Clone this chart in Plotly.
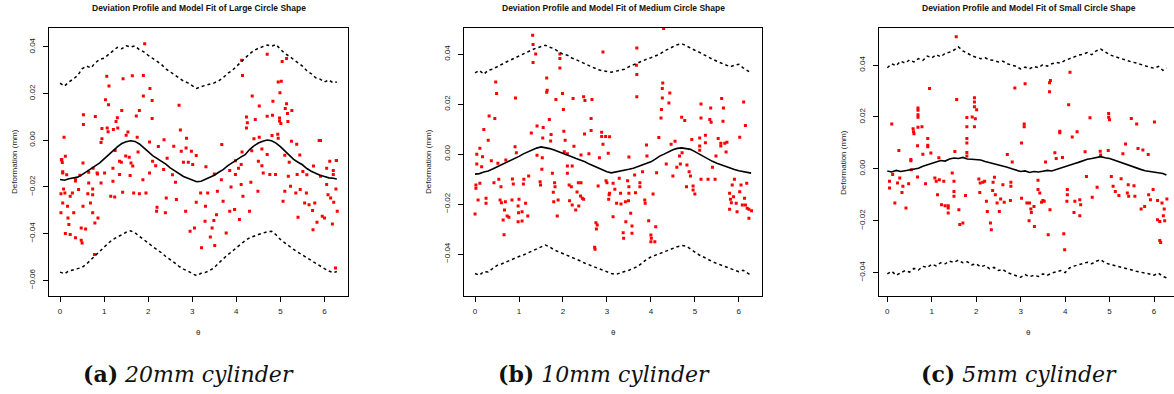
import plotly.graph_objects as go

# ---------------- data ----------------
THETA = [0.0, 0.1, 0.2, 0.3, 0.4, 0.5, 0.6, 0.7, 0.8, 0.9, 1.0, 1.1, 1.2, 1.3, 1.4, 1.5,
         1.6, 1.7, 1.8, 1.9, 2.0, 2.1, 2.2, 2.3, 2.4, 2.5, 2.6, 2.7, 2.8, 2.9, 3.0, 3.1,
         3.2, 3.3, 3.4, 3.5, 3.6, 3.7, 3.8, 3.9, 4.0, 4.1, 4.2, 4.3, 4.4, 4.5, 4.6, 4.7,
         4.8, 4.9, 5.0, 5.1, 5.2, 5.3, 5.4, 5.5, 5.6, 5.7, 5.8, 5.9, 6.0, 6.1, 6.2, 6.28]

# Panel (a) large circle
A_FIT = [-0.0168, -0.0171, -0.0165, -0.0162, -0.0158, -0.0147, -0.0135, -0.0124, -0.0111, -0.0097,
         -0.0080, -0.0063, -0.0043, -0.0028, -0.0014, -0.0006, -0.0002, -0.0005, -0.0016, -0.0031,
         -0.0049, -0.0066, -0.0078, -0.0090, -0.0102, -0.0118, -0.0131, -0.0142, -0.0155, -0.0163,
         -0.0170, -0.0178, -0.0176, -0.0168, -0.0160, -0.0150, -0.0137, -0.0126, -0.0110, -0.0097,
         -0.0084, -0.0072, -0.0062, -0.0040, -0.0024, -0.0012, -0.0004, 0.0001, -0.0002, -0.0012,
         -0.0027, -0.0045, -0.0066, -0.0082, -0.0094, -0.0105, -0.0121, -0.0133, -0.0141, -0.0150,
         -0.0155, -0.0161, -0.0163, -0.0166]
A_UPPER = [0.0245, 0.0232, 0.0250, 0.0262, 0.0278, 0.0306, 0.0318, 0.0310, 0.0332, 0.0346,
           0.0352, 0.0368, 0.0381, 0.0398, 0.0392, 0.0405, 0.0399, 0.0404, 0.0388, 0.0379,
           0.0364, 0.0352, 0.0338, 0.0325, 0.0306, 0.0292, 0.0278, 0.0266, 0.0254, 0.0246,
           0.0232, 0.0222, 0.0230, 0.0235, 0.0238, 0.0246, 0.0255, 0.0268, 0.0286, 0.0298,
           0.0316, 0.0332, 0.0352, 0.0370, 0.0385, 0.0394, 0.0401, 0.0408, 0.0403, 0.0410,
           0.0390, 0.0372, 0.0360, 0.0345, 0.0330, 0.0318, 0.0298, 0.0285, 0.0268, 0.0262,
           0.0250, 0.0258, 0.0246, 0.0250]
A_LOWER = [-0.0565, -0.0572, -0.0560, -0.0556, -0.0550, -0.0545, -0.0530, -0.0512, -0.0495, -0.0476,
           -0.0455, -0.0440, -0.0425, -0.0414, -0.0402, -0.0394, -0.0388, -0.0396, -0.0412, -0.0425,
           -0.0440, -0.0455, -0.0468, -0.0482, -0.0498, -0.0510, -0.0525, -0.0540, -0.0552, -0.0560,
           -0.0572, -0.0580, -0.0570, -0.0566, -0.0558, -0.0545, -0.0525, -0.0508, -0.0492, -0.0476,
           -0.0462, -0.0445, -0.0430, -0.0418, -0.0410, -0.0404, -0.0398, -0.0392, -0.0390, -0.0405,
           -0.0425, -0.0440, -0.0455, -0.0468, -0.0480, -0.0492, -0.0504, -0.0515, -0.0526, -0.0537,
           -0.0550, -0.0560, -0.0568, -0.0562]
A_PTS_T = [1.92, 1.06, 1.43, 1.64, 1.89, 1.11, 2.04, 1.89, 1.03, 2.09, 1.10, 2.70, 1.40, 1.80, 0.53,
           0.80, 1.30, 1.73, 2.09, 1.27, 0.53, 0.95, 1.07, 1.21, 1.31, 1.09, 1.54, 2.73, 0.09, 0.95,
           1.50, 1.75, 0.93, 2.36, 2.87, 2.03, 2.23, 2.58, 2.86, 1.25, 1.77, 2.75, 2.98, 3.09, 1.49,
           1.57, 0.12, 0.04, 2.43, 2.91, 2.80, 4.70, 5.04, 5.14, 4.12, 4.14, 5.02, 4.95, 4.99, 4.36,
           4.83, 4.52, 5.14, 5.11, 5.26, 5.16, 4.23, 4.43, 4.70, 4.82, 4.98, 4.98, 5.17, 4.25, 5.01,
           4.23, 4.40, 4.52, 4.81, 4.94, 4.95, 5.25, 5.37, 5.88, 5.91, 3.67, 4.35, 4.58, 4.70, 5.10,
           4.13, 5.44, 6.12, 6.27, 3.98,
           0.03, 0.06, 0.02, 0.08, 0.06, 0.02, 0.11, 0.17, 0.18, 0.20, 0.12, 0.23, 0.35, 0.48, 0.50,
           0.58, 0.48, 0.31, 0.28, 0.23, 0.35, 0.42, 0.52, 0.63, 0.69, 0.74, 0.79, 0.86, 0.74, 0.65,
           0.65, 0.74, 0.84, 0.93, 1.01, 1.20, 1.24, 1.15, 1.35, 1.42, 1.59, 1.67, 1.80, 1.88, 1.95,
           2.03, 2.17, 2.19, 2.20, 2.39, 2.41, 2.62, 2.64, 2.85, 2.95, 3.05, 3.09, 3.19, 3.21, 3.29,
           3.30, 3.35, 3.41, 3.45, 3.49, 3.51, 3.55, 3.57, 3.70, 3.66, 3.77, 3.85, 3.88, 3.96, 3.98,
           4.07, 4.11, 4.15, 4.30, 4.33, 4.49, 4.58, 4.76, 4.89, 5.06, 5.10, 5.18, 5.23, 5.35, 5.38,
           5.40, 5.45, 5.55, 5.59, 5.65, 5.73, 5.74, 5.78, 5.83, 5.91, 5.95, 6.00, 6.05, 6.08, 6.14,
           6.18, 6.21, 6.29, 6.25, 0.78, 6.26, 6.20, 6.27, 0.52, 1.39, 1.61, 3.01, 3.31, 4.61, 5.20,
           5.51, 4.11,
           0.05, 0.06, 0.15, 0.35, 0.45, 0.75, 0.85, 1.20, 1.35, 1.65, 2.10, 2.35, 2.55, 3.50, 3.85,
           4.05, 4.50, 5.60, 5.75, 6.05, 6.20]
A_PTS_V = [0.0414, 0.0274, 0.0264, 0.0276, 0.0277, 0.0233, 0.0222, 0.0190, 0.0174, 0.0170, 0.0152,
           0.0150, 0.0127, 0.0127, 0.0109, 0.0102, 0.0096, 0.0104, 0.0093, 0.0080, 0.0067, 0.0050,
           0.0053, 0.0046, 0.0053, 0.0036, 0.0035, 0.0044, 0.0013, 0.0007, 0.0022, 0.0013, -0.0010,
           0.0002, 0.0009, -0.0007, -0.0027, -0.0026, -0.0033, -0.0044, -0.0050, -0.0047, -0.0047,
           -0.0065, -0.0067, -0.0073, -0.0068, -0.0082, -0.0077, -0.0094, -0.0094, 0.0369, 0.0337,
           0.0350, 0.0343, 0.0277, 0.0253, 0.0250, 0.0204, 0.0190, 0.0167, 0.0147, 0.0156, 0.0136,
           0.0127, 0.0115, 0.0100, 0.0089, 0.0103, 0.0107, 0.0095, 0.0083, 0.0080, 0.0075, 0.0072,
           0.0053, 0.0007, 0.0013, 0.0020, 0.0026, 0.0009, -0.0004, -0.0017, -0.0001, -0.0001,
           -0.0018, -0.0045, -0.0037, -0.0061, -0.0064, -0.0050, -0.0063, -0.0090, -0.0087, -0.0088,
           -0.0083, -0.0140, -0.0229, -0.0209, -0.0269, -0.0311, -0.0226, -0.0283, -0.0333, -0.0361,
           -0.0400, -0.0404, -0.0418, -0.0428, -0.0440, -0.0380, -0.0376, -0.0311, -0.0226, -0.0240,
           -0.0169, -0.0211, -0.0283, -0.0229, -0.0269, -0.0311, -0.0354, -0.0333, -0.0233, -0.0183,
           -0.0137, -0.0209, -0.0140, -0.0183, -0.0140, -0.0176, -0.0243, -0.0240, -0.0147, -0.0223,
           -0.0151, -0.0226, -0.0229, -0.0169, -0.0226, -0.0140, -0.0109, -0.0304, -0.0287, -0.0311,
           -0.0247, -0.0180, -0.0254, -0.0304, -0.0390, -0.0376, -0.0266, -0.0226, -0.0461, -0.0347,
           -0.0283, -0.0226, -0.0414, -0.0376, -0.0344, -0.0451, -0.0319, -0.0219, -0.0261, -0.0169,
           -0.0397, -0.0304, -0.0200, -0.0297, -0.0147, -0.0340, -0.0190, -0.0240, -0.0304, -0.0180,
           -0.0219, -0.0109, -0.0147, -0.0147, -0.0261, -0.0219, -0.0154, -0.0197, -0.0226, -0.0147,
           -0.0330, -0.0211, -0.0269, -0.0226, -0.0276, -0.0301, -0.0383, -0.0269, -0.0351, -0.0154,
           -0.0326, -0.0333, -0.0190, -0.0233, -0.0247, -0.0359, -0.0266, -0.0304, -0.0547, -0.0490,
           -0.0209, -0.0147, -0.0087, -0.0097, -0.0094, -0.0097, -0.0104, -0.0114, -0.0140, -0.0094,
           -0.0134, -0.0104,
           -0.0095, -0.0135, -0.0148, -0.0175, -0.0150, -0.0120, -0.0145, -0.0120, -0.0090, -0.0110,
           -0.0090, -0.0125, -0.0148, -0.0145, -0.0130, -0.0120, -0.0090, -0.0148, -0.0110, -0.0120,
           -0.0130]

# Panel (b) medium circle
B_FIT = [-0.0080, -0.0078, -0.0072, -0.0068, -0.0060, -0.0052, -0.0044, -0.0036, -0.0026, -0.0017,
         -0.0009, 0.0001, 0.0009, 0.0018, 0.0024, 0.0029, 0.0026, 0.0022, 0.0016, 0.0010,
         0.0003, -0.0004, -0.0011, -0.0018, -0.0024, -0.0031, -0.0040, -0.0048, -0.0056, -0.0064,
         -0.0071, -0.0075, -0.0072, -0.0070, -0.0066, -0.0061, -0.0057, -0.0050, -0.0044, -0.0037,
         -0.0031, -0.0020, -0.0008, 0.0000, 0.0009, 0.0017, 0.0023, 0.0025, 0.0022, 0.0019,
         0.0010, 0.0000, -0.0011, -0.0020, -0.0029, -0.0037, -0.0044, -0.0051, -0.0057, -0.0062,
         -0.0067, -0.0071, -0.0073, -0.0076]
B_UPPER = [0.0325, 0.0335, 0.0320, 0.0336, 0.0340, 0.0350, 0.0358, 0.0368, 0.0376, 0.0385,
           0.0392, 0.0400, 0.0410, 0.0418, 0.0425, 0.0430, 0.0436, 0.0428, 0.0422, 0.0410,
           0.0400, 0.0396, 0.0385, 0.0378, 0.0370, 0.0360, 0.0352, 0.0345, 0.0338, 0.0334,
           0.0330, 0.0328, 0.0332, 0.0335, 0.0340, 0.0350, 0.0358, 0.0365, 0.0372, 0.0380,
           0.0386, 0.0392, 0.0400, 0.0412, 0.0422, 0.0430, 0.0438, 0.0442, 0.0434, 0.0424,
           0.0416, 0.0408, 0.0398, 0.0390, 0.0380, 0.0372, 0.0365, 0.0355, 0.0350, 0.0356,
           0.0360, 0.0345, 0.0335, 0.0325]
B_LOWER = [-0.0478, -0.0485, -0.0470, -0.0472, -0.0458, -0.0446, -0.0440, -0.0432, -0.0424, -0.0418,
           -0.0410, -0.0404, -0.0396, -0.0386, -0.0378, -0.0370, -0.0364, -0.0372, -0.0384, -0.0391,
           -0.0398, -0.0405, -0.0411, -0.0420, -0.0428, -0.0437, -0.0444, -0.0450, -0.0457, -0.0465,
           -0.0472, -0.0478, -0.0482, -0.0475, -0.0470, -0.0465, -0.0458, -0.0450, -0.0436, -0.0422,
           -0.0412, -0.0405, -0.0398, -0.0391, -0.0384, -0.0376, -0.0371, -0.0366, -0.0368, -0.0380,
           -0.0392, -0.0404, -0.0412, -0.0422, -0.0431, -0.0438, -0.0445, -0.0451, -0.0458, -0.0465,
           -0.0471, -0.0465, -0.0478, -0.0486]
B_PTS_T = [1.31, 4.29, 1.32, 1.38, 1.32, 1.93, 1.93, 1.93, 2.91, 3.68, 3.68, 3.67, 0.47, 0.49, 0.92,
           1.63, 1.64, 1.63, 1.99, 1.84, 2.23, 2.47, 2.50, 2.66, 3.68, 4.27, 4.26, 4.43, 4.26, 4.41,
           5.61, 5.14, 5.36, 5.65, 6.11, 4.24, 2.01, 0.32, 0.45, 1.69, 2.64, 4.23, 4.70, 4.77, 5.14,
           5.34, 5.37, 5.64, 6.15, 0.20, 1.41, 1.55, 1.28, 1.73, 2.02, 2.49, 2.64, 2.88, 0.30, 1.54,
           1.72, 2.05, 2.88, 2.97, 3.06, 4.18, 4.55, 4.93, 5.11, 5.24, 5.53, 6.02, 5.24, 5.59, 5.68,
           5.73, 0.11, 0.91, 2.25, 2.91, 3.90, 4.46, 5.11, 5.59, 5.11, 0.04, 0.17, 0.94, 1.41, 1.53,
           2.03, 2.10, 2.41, 2.59, 2.83, 3.03, 3.50, 3.91, 4.71, 4.65, 5.48, 5.71,
           0.04, 0.15, 0.37, 0.52, 0.70, 0.02, 0.11, 0.02, 0.43, 0.54, 0.59, 0.07, 0.25, 0.25, 0.57,
           0.60, 0.69, 0.84, 0.00, 0.67, 0.73, 0.64, 0.77, 0.66, 1.00, 0.98, 0.99, 1.07, 0.98, 1.07,
           1.20, 1.15, 1.10, 0.87, 0.85, 1.11, 1.22, 1.48, 1.49, 1.52, 1.76, 1.81, 1.82, 1.78, 1.79,
           1.89, 1.87, 2.10, 2.21, 2.10, 2.14, 2.19, 2.15, 2.21, 2.29, 2.35, 2.41, 2.32, 2.40, 2.44,
           2.47, 2.36, 2.80, 2.75, 2.78, 2.76, 2.72, 2.73, 2.98, 3.00, 3.05, 3.06, 3.04, 3.14, 3.18,
           3.22, 3.28, 3.31, 3.32, 3.14, 3.42, 3.43, 3.37, 3.38, 3.49, 3.50, 3.47, 3.50, 3.54, 3.57,
           3.57, 3.63, 3.65, 3.75, 3.75, 3.81, 3.86, 3.87, 3.95, 4.00, 4.01, 4.00, 4.09, 4.11, 4.05,
           4.13, 4.35, 4.50, 4.59, 4.67, 4.82, 4.87, 4.90, 4.81, 4.96, 4.96, 5.00, 5.14, 5.30, 5.40,
           5.46, 5.85, 5.79, 5.81, 5.83, 5.79, 5.88, 5.94, 5.96, 5.90, 6.02, 6.05, 6.13, 6.15, 6.18,
           6.19, 6.23, 6.23, 6.29, 6.08]
B_PTS_V = [0.0476, 0.0503, 0.0439, 0.0401, 0.0367, 0.0401, 0.0383, 0.0345, 0.0409, 0.0425, 0.0319,
           0.0356, 0.0289, 0.0243, 0.0225, 0.0305, 0.0256, 0.0248, 0.0243, 0.0219, 0.0223, 0.0230,
           0.0215, 0.0219, 0.0230, 0.0285, 0.0263, 0.0245, 0.0225, 0.0205, 0.0223, 0.0201, 0.0185,
           0.0185, 0.0209, 0.0179, 0.0179, 0.0153, 0.0143, 0.0139, 0.0143, 0.0145, 0.0148, 0.0135,
           0.0145, 0.0139, 0.0128, 0.0132, 0.0115, 0.0099, 0.0113, 0.0107, 0.0085, 0.0079, 0.0092,
           0.0081, 0.0095, 0.0088, 0.0055, 0.0065, 0.0052, 0.0055, 0.0071, 0.0071, 0.0070, 0.0067,
           0.0051, 0.0059, 0.0065, 0.0076, 0.0063, 0.0068, 0.0045, 0.0043, 0.0043, 0.0047, 0.0023,
           0.0029, 0.0031, 0.0039, 0.0036, 0.0039, 0.0032, 0.0032, 0.0015, -0.0001, -0.0011, 0.0005,
           -0.0005, -0.0015, 0.0009, 0.0001, -0.0004, 0.0001, -0.0015, 0.0003, -0.0012, -0.0008,
           0.0005, -0.0008, -0.0008, 0.0008,
           -0.0040, -0.0051, -0.0027, -0.0037, -0.0024, -0.0124, -0.0117, -0.0137, -0.0115, -0.0101,
           -0.0131, -0.0184, -0.0177, -0.0197, -0.0184, -0.0195, -0.0191, -0.0184, -0.0240, -0.0224,
           -0.0248, -0.0264, -0.0253, -0.0323, -0.0181, -0.0208, -0.0235, -0.0231, -0.0271, -0.0268,
           -0.0248, -0.0197, -0.0120, -0.0120, -0.0100, -0.0101, -0.0088, -0.0111, -0.0124, -0.0061,
           -0.0077, -0.0115, -0.0131, -0.0153, -0.0191, -0.0184, -0.0248, -0.0048, -0.0048, -0.0077,
           -0.0124, -0.0131, -0.0187, -0.0204, -0.0224, -0.0115, -0.0115, -0.0152, -0.0168, -0.0177,
           -0.0181, -0.0208, -0.0128, -0.0275, -0.0284, -0.0300, -0.0373, -0.0381, -0.0107, -0.0115,
           -0.0163, -0.0157, -0.0181, -0.0117, -0.0141, -0.0197, -0.0097, -0.0157, -0.0200, -0.0251,
           -0.0191, -0.0271, -0.0315, -0.0337, -0.0187, -0.0157, -0.0107, -0.0131, -0.0237, -0.0288,
           -0.0317, -0.0084, -0.0155, -0.0115, -0.0131, -0.0071, -0.0184, -0.0197, -0.0267, -0.0324,
           -0.0337, -0.0351, -0.0351, -0.0291, -0.0160, -0.0075, -0.0040, -0.0088, -0.0053, -0.0040,
           -0.0044, -0.0071, -0.0088, -0.0131, -0.0128, -0.0144, -0.0160, -0.0101, -0.0101, -0.0053,
           -0.0101, -0.0124, -0.0157, -0.0181, -0.0195, -0.0221, -0.0171, -0.0197, -0.0231, -0.0101,
           -0.0151, -0.0124, -0.0177, -0.0204, -0.0117, -0.0217, -0.0257, -0.0221, -0.0227, -0.0204]

# Panel (c) small circle
C_FIT = [-0.0008, -0.0012, -0.0006, -0.0010, -0.0007, -0.0004, -0.0002, 0.0002, 0.0010, 0.0016,
         0.0022, 0.0026, 0.0032, 0.0030, 0.0038, 0.0042, 0.0040, 0.0044, 0.0038, 0.0037,
         0.0035, 0.0034, 0.0028, 0.0024, 0.0020, 0.0015, 0.0010, 0.0006, 0.0000, -0.0006,
         -0.0010, -0.0008, -0.0014, -0.0010, -0.0012, -0.0009, -0.0006, -0.0008, -0.0002, 0.0004,
         0.0009, 0.0014, 0.0020, 0.0025, 0.0032, 0.0037, 0.0040, 0.0044, 0.0047, 0.0043,
         0.0040, 0.0034, 0.0028, 0.0022, 0.0014, 0.0009, 0.0003, -0.0002, -0.0007, -0.0010,
         -0.0012, -0.0016, -0.0018, -0.0024]
C_UPPER = [0.0390, 0.0405, 0.0398, 0.0415, 0.0408, 0.0420, 0.0412, 0.0425, 0.0418, 0.0435,
           0.0428, 0.0440, 0.0432, 0.0445, 0.0450, 0.0458, 0.0470, 0.0455, 0.0446, 0.0436,
           0.0430, 0.0425, 0.0428, 0.0420, 0.0418, 0.0412, 0.0415, 0.0405, 0.0400, 0.0395,
           0.0385, 0.0392, 0.0386, 0.0395, 0.0390, 0.0402, 0.0396, 0.0405, 0.0410, 0.0408,
           0.0418, 0.0425, 0.0430, 0.0438, 0.0442, 0.0448, 0.0440, 0.0455, 0.0462, 0.0452,
           0.0440, 0.0434, 0.0428, 0.0425, 0.0418, 0.0412, 0.0408, 0.0402, 0.0398, 0.0392,
           0.0388, 0.0395, 0.0380, 0.0388]
C_LOWER = [-0.0405, -0.0395, -0.0410, -0.0400, -0.0392, -0.0398, -0.0384, -0.0390, -0.0376, -0.0380,
           -0.0368, -0.0374, -0.0362, -0.0366, -0.0356, -0.0360, -0.0352, -0.0362, -0.0358, -0.0370,
           -0.0366, -0.0378, -0.0372, -0.0385, -0.0380, -0.0392, -0.0388, -0.0400, -0.0405, -0.0410,
           -0.0418, -0.0408, -0.0416, -0.0410, -0.0415, -0.0405, -0.0410, -0.0402, -0.0398, -0.0392,
           -0.0400, -0.0382, -0.0375, -0.0370, -0.0364, -0.0360, -0.0366, -0.0356, -0.0350, -0.0362,
           -0.0368, -0.0372, -0.0378, -0.0382, -0.0386, -0.0390, -0.0395, -0.0398, -0.0402, -0.0405,
           -0.0410, -0.0402, -0.0415, -0.0420]
C_PTS_T = [1.55, 0.95, 1.56, 1.96, 1.96, 1.96, 2.01, 2.87, 3.10, 3.67, 3.65, 3.65, 4.11, 4.08, 0.69,
           0.69, 0.69, 0.69, 0.10, 0.58, 0.69, 0.78, 0.59, 0.60, 1.79, 1.91, 1.98, 1.79, 1.96, 3.08,
           3.08, 3.88, 3.88, 4.16, 4.27, 4.56, 4.98, 4.98, 5.00, 5.49, 5.61, 6.01, 0.91, 0.91, 0.91,
           0.68, 1.79, 1.79, 3.02, 5.36, 0.26, 0.80, 0.98, 1.52, 1.79, 1.79, 1.16, 2.70, 3.77, 3.80,
           3.94, 4.45, 4.79, 4.80, 4.97, 5.30, 5.64, 5.75, 5.87, 0.53, 2.81, 3.56,
           0.05, 0.05, 0.12, 0.17, 0.23, 0.28, 0.35, 0.33, 0.42, 0.48, 0.53, 0.54, 0.68, 0.86, 1.07,
           1.10, 1.13, 1.17, 1.27, 1.22, 1.30, 1.37, 1.37, 1.46, 1.50, 1.50, 1.50, 1.61, 1.63, 1.70,
           1.76, 2.06, 2.09, 2.15, 2.19, 2.08, 2.23, 2.25, 2.32, 2.34, 2.38, 2.37, 2.41, 2.43, 2.47,
           2.52, 2.55, 2.60, 2.63, 2.78, 2.78, 2.77, 3.02, 3.14, 3.20, 3.23, 3.24, 3.19, 3.30, 3.31,
           3.39, 3.43, 3.47, 3.50, 3.53, 3.39, 3.62, 3.66, 3.97, 3.99, 4.05, 4.05, 4.04, 4.20, 4.22,
           4.33, 4.35, 4.33, 4.48, 4.61, 4.72, 5.04, 5.08, 5.13, 5.21, 5.26, 5.42, 5.40, 5.43, 5.55,
           5.57, 5.71, 5.79, 5.88, 5.92, 5.98, 6.08, 6.08, 6.13, 6.13, 6.15, 6.21, 6.24, 6.23, 6.29,
           6.18, 1.37]
C_PTS_V = [0.0509, 0.0310, 0.0267, 0.0274, 0.0258, 0.0239, 0.0228, 0.0312, 0.0328, 0.0341, 0.0332,
           0.0297, 0.0372, 0.0247, 0.0235, 0.0226, 0.0209, 0.0199, 0.0173, 0.0155, 0.0160, 0.0162,
           0.0143, 0.0135, 0.0198, 0.0200, 0.0193, 0.0162, 0.0162, 0.0173, 0.0162, 0.0145, 0.0139,
           0.0123, 0.0143, 0.0197, 0.0213, 0.0199, 0.0189, 0.0194, 0.0173, 0.0181, 0.0117, 0.0091,
           0.0085, 0.0089, 0.0117, 0.0100, 0.0100, 0.0096, 0.0071, 0.0056, 0.0061, 0.0067, 0.0063,
           0.0050, 0.0043, 0.0055, 0.0062, 0.0040, 0.0044, 0.0066, 0.0068, 0.0053, 0.0071, 0.0058,
           0.0078, 0.0073, 0.0055, 0.0031, 0.0026, 0.0026,
           -0.0048, -0.0074, -0.0022, -0.0132, -0.0055, -0.0035, -0.0067, -0.0091, -0.0151, -0.0057,
           0.0036, -0.0003, -0.0031, -0.0057, -0.0035, -0.0048, -0.0100, -0.0042, -0.0048, -0.0138,
           -0.0142, -0.0151, -0.0170, -0.0016, -0.0048, -0.0087, -0.0106, -0.0158, -0.0215, -0.0209,
           -0.0103, -0.0039, -0.0055, -0.0052, -0.0048, -0.0091, -0.0125, -0.0164, -0.0209, -0.0235,
           -0.0052, -0.0083, -0.0032, -0.0100, -0.0132, -0.0164, -0.0116, -0.0061, -0.0129, -0.0052,
           -0.0067, -0.0122, -0.0113, -0.0132, -0.0132, -0.0155, -0.0168, -0.0200, -0.0145, -0.0222,
           -0.0080, -0.0093, -0.0129, -0.0122, -0.0125, -0.0044, -0.0254, -0.0158, -0.0250, -0.0312,
           -0.0080, -0.0100, -0.0125, -0.0168, -0.0125, -0.0119, -0.0138, -0.0181, -0.0029, -0.0109,
           -0.0071, -0.0029, -0.0067, -0.0087, -0.0103, -0.0038, -0.0061, -0.0093, -0.0106, -0.0065,
           -0.0106, -0.0155, -0.0145, -0.0100, -0.0119, -0.0080, -0.0122, -0.0196, -0.0203, -0.0276,
           -0.0284, -0.0181, -0.0200, -0.0155, -0.0116, -0.0132, -0.0142]

TITLES = ["Deviation Profile and Model Fit of Large Circle Shape",
          "Deviation Profile and Model Fit of Medium Circle Shape",
          "Deviation Profile and Model Fit of Small Circle Shape"]
CAPTIONS = [("(a)", "20mm cylinder"), ("(b)", "10mm cylinder"), ("(c)", "5mm cylinder")]
X_TICKS = [0, 1, 2, 3, 4, 5, 6]
Y_TICKS = [
    ([-0.06, -0.04, -0.02, 0.00, 0.02, 0.04], ["\u22120.06", "\u22120.04", "\u22120.02", "0.00", "0.02", "0.04"]),
    ([-0.04, -0.02, 0.00, 0.02, 0.04], ["\u22120.04", "\u22120.02", "0.00", "0.02", "0.04"]),
    ([-0.04, -0.02, 0.00, 0.02, 0.04], ["\u22120.04", "\u22120.02", "0.00", "0.02", "0.04"]),
]
X_LABEL = "\u03b8"
Y_LABEL = "Deformation (mm)"

# ---------------- layout (pixels) ----------------
W, H = 1174, 394
BOX_LEFT = [49, 464, 879]
BOX_RIGHT = [348, 762.3, 1174]
BOX_TOP, BOX_BOTTOM = 28, 295.7
X_RANGES = [[-0.251, 6.534], [-0.251, 6.534], [-0.187, 6.45]]
Y_RANGES = [[-0.0666, 0.0481], [-0.0567, 0.0505], [-0.0489, 0.0543]]
PANEL_CENTER = [198.5, 613, 1028.5]
CAPTION_CENTER = [189, 604, 1019]
YLAB_X = [14, 428, 843]

panels = [
    (A_FIT, A_UPPER, A_LOWER, A_PTS_T, A_PTS_V),
    (B_FIT, B_UPPER, B_LOWER, B_PTS_T, B_PTS_V),
    (C_FIT, C_UPPER, C_LOWER, C_PTS_T, C_PTS_V),
]

fig = go.Figure()
FONT = "Liberation Sans, Arial, sans-serif"

for i, (fit, up, lo, pt, pv) in enumerate(panels):
    xa = "x" if i == 0 else f"x{i+1}"
    ya = "y" if i == 0 else f"y{i+1}"
    fig.add_trace(go.Scatter(x=pt, y=pv, mode="markers", xaxis=xa, yaxis=ya,
                             marker=dict(symbol="square", size=3, color="#ff0000", line=dict(width=0)),
                             showlegend=False, hoverinfo="skip"))
    for band in (up, lo):
        fig.add_trace(go.Scatter(x=THETA, y=band, mode="lines", xaxis=xa, yaxis=ya,
                                 line=dict(color="black", width=1.5, dash="dot"),
                                 showlegend=False, hoverinfo="skip"))
    fig.add_trace(go.Scatter(x=THETA, y=fit, mode="lines", xaxis=xa, yaxis=ya,
                             line=dict(color="black", width=1.6),
                             showlegend=False, hoverinfo="skip"))

    xk = "xaxis" if i == 0 else f"xaxis{i+1}"
    yk = "yaxis" if i == 0 else f"yaxis{i+1}"
    fig.layout[xk] = dict(
        domain=[BOX_LEFT[i] / W, BOX_RIGHT[i] / W], range=X_RANGES[i], anchor=ya,
        showgrid=False, zeroline=False, showline=True, mirror=True,
        linecolor="black", linewidth=1, ticks="outside", ticklen=5, tickcolor="black",
        tickvals=X_TICKS, ticktext=[str(t) for t in X_TICKS], ticklabelstandoff=3,
        tickfont=dict(family=FONT, size=8, color="#222"))
    fig.layout[yk] = dict(
        domain=[1 - BOX_BOTTOM / H, 1 - BOX_TOP / H], range=Y_RANGES[i], anchor=xa,
        showgrid=False, zeroline=False, showline=True, mirror=(i < 2),
        linecolor="black", linewidth=1, ticks="outside", ticklen=5, tickcolor="black",
        tickvals=Y_TICKS[i][0], ticktext=Y_TICKS[i][1], tickangle=-90, ticklabelstandoff=5,
        tickfont=dict(family=FONT, size=8, color="#222"))

    fig.add_annotation(text="<b>" + TITLES[i] + "</b>", xref="paper", yref="paper",
                       x=PANEL_CENTER[i] / W, y=1 - 7.5 / H, xanchor="center", yanchor="middle",
                       showarrow=False, font=dict(family=FONT, size=8.5, color="#111"))
    fig.add_annotation(text=X_LABEL, xref="paper", yref="paper",
                       x=PANEL_CENTER[i] / W, y=1 - 332 / H, xanchor="center", yanchor="middle",
                       showarrow=False, font=dict(family=FONT, size=8, color="#222"))
    fig.add_annotation(text=Y_LABEL, xref="paper", yref="paper", textangle=-90,
                       x=YLAB_X[i] / W, y=1 - 162 / H, xanchor="center", yanchor="middle",
                       showarrow=False, font=dict(family=FONT, size=8, color="#222"))
    lab, cap = CAPTIONS[i]
    fig.add_annotation(text="<b>" + lab + "</b> <i>" + cap + "</i>", xref="paper", yref="paper",
                       x=CAPTION_CENTER[i] / W, y=1 - 374 / H, xanchor="center", yanchor="middle",
                       showarrow=False, font=dict(family="DejaVu Serif, serif", size=22, color="#111"))

fig.update_layout(width=W, height=H, margin=dict(l=0, r=0, t=0, b=0),
                  paper_bgcolor="white", plot_bgcolor="white")
fig.write_html("out.html")
